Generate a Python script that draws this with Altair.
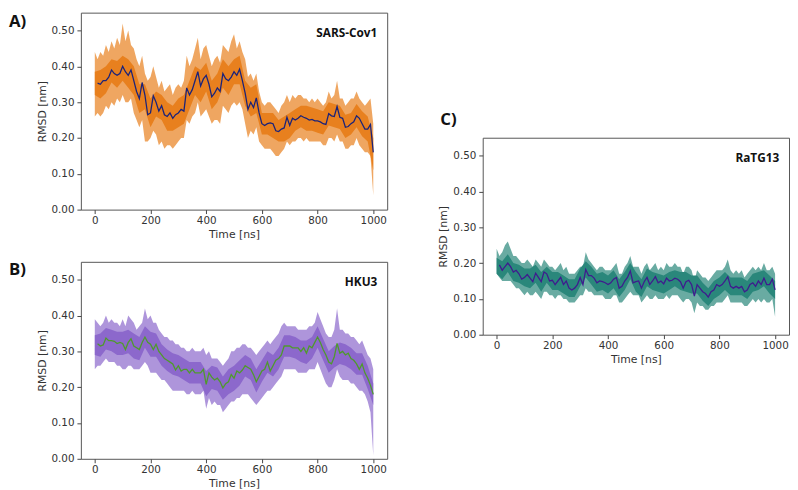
import altair as alt
import pandas as pd

# ---------------- data ----------------
T_MEAN = list(range(10, 1001, 10))   # 100 points
T_OUT = list(range(0, 1001, 10))     # 101 points
T_IN = list(range(0, 1001, 20))      # 51 points

# Panel A: SARS-Cov1
A_MEAN = [.353, .35, .36, .36, .37, .39, .38, .375, .38, .40,
          .385, .375, .39, .36, .33, .31, .355, .32, .265, .27,
          .318, .30, .275, .29, .265, .26, .27, .255, .265, .27,
          .28, .275, .34, .32, .335, .36, .385, .345, .365, .375,
          .35, .315, .325, .34, .33, .38, .365, .36, .37, .385,
          .375, .392, .36, .325, .28, .30, .285, .312, .27, .24,
          .235, .24, .242, .24, .22, .218, .225, .228, .258, .235,
          .255, .25, .255, .262, .258, .255, .25, .252, .248, .248,
          .245, .24, .238, .268, .262, .26, .288, .258, .255, .23,
          .232, .24, .245, .262, .255, .24, .225, .225, .238, .16]
A_OUT_HI = [.44, .42, .44, .43, .46, .44, .47, .45, .48, .46,
            .52, .47, .50, .46, .45, .42, .40, .43, .38, .36,
            .37, .40, .37, .34, .36, .33, .34, .35, .32, .34,
            .35, .34, .36, .43, .40, .42, .45, .48, .42, .45,
            .46, .43, .40, .42, .43, .41, .46, .45, .44, .47,
            .49, .45, .47, .44, .42, .37, .38, .36, .38, .33,
            .30, .29, .30, .30, .29, .28, .27, .29, .30, .32,
            .30, .32, .31, .32, .32, .31, .31, .30, .31, .30,
            .31, .30, .29, .30, .33, .31, .32, .36, .31, .31,
            .29, .30, .31, .31, .33, .31, .30, .29, .30, .31,
            .24]
A_OUT_LO = [.26, .27, .26, .27, .29, .28, .30, .29, .31, .30,
            .32, .30, .30, .31, .27, .25, .23, .25, .19, .19,
            .20, .22, .21, .18, .19, .17, .18, .18, .17, .18,
            .19, .20, .20, .25, .24, .26, .27, .30, .26, .27,
            .28, .26, .24, .25, .25, .24, .29, .28, .27, .29,
            .30, .29, .30, .28, .24, .20, .22, .21, .23, .19,
            .18, .17, .17, .17, .16, .15, .15, .16, .17, .19,
            .18, .19, .19, .20, .20, .19, .20, .19, .19, .19,
            .19, .19, .18, .18, .20, .20, .19, .21, .19, .19,
            .17, .17, .18, .18, .20, .18, .17, .16, .16, .15,
            .04]
A_IN_HI = [.385, .39, .40, .42, .415, .43, .42, .40, .35, .35,
           .31, .33, .32, .30, .29, .31, .32, .36, .40, .39,
           .41, .36, .38, .42, .40, .42, .43, .36, .34, .35,
           .27, .27, .27, .25, .26, .27, .28, .29, .29, .285,
           .28, .275, .30, .295, .29, .265, .27, .295, .275, .26,
           .20]
A_IN_LO = [.32, .31, .325, .355, .34, .36, .34, .32, .27, .28,
           .23, .26, .25, .22, .22, .23, .24, .28, .32, .30,
           .33, .28, .30, .34, .32, .35, .35, .29, .26, .27,
           .21, .21, .20, .19, .19, .20, .22, .23, .22, .22,
           .215, .21, .235, .23, .225, .20, .21, .23, .205, .19,
           .11]

# Panel B: HKU3
B_MEAN = [.321, .315, .318, .337, .33, .33, .328, .322, .325, .322,
          .305, .325, .335, .315, .31, .305, .325, .34, .325, .32,
          .305, .32, .30, .29, .28, .275, .27, .265, .248, .26,
          .245, .25, .25, .24, .25, .24, .24, .24, .25, .208,
          .24, .228, .22, .225, .215, .198, .21, .215, .235, .225,
          .245, .24, .248, .26, .255, .25, .235, .215, .23, .245,
          .25, .27, .245, .26, .275, .28, .29, .315, .315, .315,
          .31, .31, .31, .30, .31, .295, .315, .31, .325, .34,
          .325, .305, .29, .27, .265, .285, .322, .295, .30, .29,
          .295, .28, .275, .265, .25, .265, .24, .225, .205, .18]
B_OUT_HI = [.39, .38, .37, .38, .40, .38, .39, .38, .38, .37,
            .39, .37, .40, .39, .38, .36, .37, .38, .42, .39,
            .40, .38, .38, .36, .35, .34, .34, .33, .33, .32,
            .32, .31, .31, .30, .30, .31, .30, .30, .30, .31,
            .29, .30, .28, .28, .28, .27, .26, .27, .28, .30,
            .30, .31, .31, .32, .32, .31, .31, .30, .29, .30,
            .31, .32, .33, .32, .33, .34, .35, .37, .38, .37,
            .37, .37, .37, .36, .36, .36, .36, .37, .37, .38,
            .41, .39, .37, .35, .34, .34, .36, .42, .36, .36,
            .35, .35, .34, .34, .33, .32, .33, .31, .29, .28,
            .25]
B_OUT_LO = [.25, .26, .26, .27, .28, .27, .27, .27, .26, .26,
            .25, .25, .26, .26, .25, .25, .25, .26, .27, .26,
            .24, .24, .24, .23, .22, .22, .21, .20, .19, .19,
            .19, .19, .19, .18, .18, .19, .18, .18, .18, .19,
            .14, .17, .15, .16, .15, .15, .13, .14, .15, .16,
            .16, .17, .17, .18, .18, .18, .17, .16, .15, .16,
            .17, .18, .19, .19, .20, .21, .22, .23, .25, .25,
            .25, .25, .25, .24, .24, .24, .24, .25, .25, .25,
            .27, .25, .23, .21, .20, .20, .22, .25, .23, .22,
            .22, .22, .21, .21, .20, .19, .19, .18, .16, .13,
            .01]
B_IN_HI = [.345, .35, .365, .36, .355, .355, .36, .35, .34, .37,
           .355, .35, .32, .305, .295, .29, .28, .27, .27, .27,
           .245, .26, .255, .23, .25, .26, .275, .29, .28, .25,
           .275, .30, .29, .31, .345, .345, .34, .33, .33, .34,
           .37, .335, .30, .315, .325, .32, .31, .295, .295, .26,
           .21]
B_IN_LO = [.29, .285, .305, .30, .29, .29, .295, .28, .275, .31,
           .285, .285, .26, .245, .235, .23, .22, .21, .21, .21,
           .175, .195, .19, .165, .18, .19, .205, .23, .22, .185,
           .215, .24, .23, .25, .285, .285, .28, .27, .265, .28,
           .31, .275, .24, .255, .265, .26, .25, .235, .235, .195,
           .15]

# Panel C: RaTG13
C_MEAN = [.195, .18, .19, .20, .19, .175, .18, .17, .155, .16,
          .168, .158, .148, .172, .16, .148, .175, .17, .15, .152,
          .14, .15, .16, .14, .15, .13, .125, .13, .14, .16,
          .14, .182, .165, .165, .158, .145, .15, .148, .145, .14,
          .145, .155, .16, .13, .135, .15, .16, .178, .145, .148,
          .15, .13, .148, .16, .14, .15, .162, .145, .15, .142,
          .158, .15, .152, .158, .155, .148, .13, .148, .152, .14,
          .108, .14, .13, .12, .115, .105, .12, .125, .14, .135,
          .14, .15, .162, .135, .13, .135, .13, .135, .12, .125,
          .14, .145, .135, .15, .14, .158, .14, .14, .155, .125]
C_OUT_HI = [.24, .22, .23, .25, .26, .24, .22, .22, .21, .20,
            .20, .21, .20, .19, .21, .20, .19, .21, .20, .19,
            .19, .18, .19, .20, .18, .19, .17, .17, .17, .18,
            .19, .19, .23, .21, .20, .19, .18, .19, .19, .18,
            .18, .18, .19, .20, .17, .17, .19, .20, .22, .19,
            .19, .19, .17, .19, .20, .18, .19, .20, .18, .19,
            .18, .20, .19, .19, .20, .19, .19, .17, .19, .19,
            .18, .15, .18, .17, .16, .16, .15, .16, .17, .18,
            .18, .18, .19, .21, .18, .17, .18, .17, .18, .16,
            .17, .18, .19, .18, .19, .18, .20, .18, .18, .19,
            .17]
C_OUT_LO = [.17, .16, .15, .15, .15, .15, .14, .13, .13, .12,
            .11, .12, .11, .11, .12, .11, .10, .12, .12, .11,
            .11, .10, .11, .11, .10, .10, .09, .09, .09, .10,
            .11, .11, .13, .12, .12, .11, .11, .11, .11, .10,
            .10, .10, .11, .11, .09, .09, .10, .11, .12, .11,
            .11, .11, .09, .10, .11, .10, .10, .11, .10, .10,
            .10, .11, .10, .11, .11, .11, .10, .09, .10, .10,
            .09, .06, .09, .08, .08, .07, .07, .08, .08, .09,
            .09, .09, .10, .11, .09, .09, .09, .09, .09, .08,
            .08, .09, .10, .09, .10, .09, .10, .09, .09, .10,
            .05]
C_IN_HI = [.215, .205, .225, .20, .195, .185, .185, .195, .175, .19,
           .175, .175, .165, .155, .155, .185, .205, .19, .17, .175,
           .165, .18, .155, .175, .20, .175, .155, .185, .175, .17,
           .165, .175, .18, .175, .175, .165, .165, .145, .13, .15,
           .16, .175, .16, .16, .16, .15, .17, .175, .18, .165,
           .15]
C_IN_LO = [.17, .155, .175, .15, .145, .135, .13, .145, .12, .145,
           .125, .125, .115, .105, .105, .135, .16, .14, .12, .125,
           .115, .13, .105, .125, .155, .12, .105, .135, .125, .12,
           .115, .125, .135, .125, .12, .115, .115, .095, .08, .10,
           .11, .125, .11, .11, .11, .10, .12, .125, .135, .115,
           .10]

X_TICKS = [0, 200, 400, 600, 800, 1000]
Y_TICKS = [0.0, 0.1, 0.2, 0.3, 0.4, 0.5]

W = 311
H = 200
FONT = "DejaVu Sans"


def panel(mean, out_hi, out_lo, in_hi, in_lo, band, line, name, letter, lx, ly):
    dm = pd.DataFrame({"t": T_MEAN, "v": mean})
    do = pd.DataFrame({"t": T_OUT, "hi": out_hi, "lo": out_lo})
    di = pd.DataFrame({"t": T_IN, "hi": in_hi, "lo": in_lo})
    xs = alt.Scale(domain=[-50, 1050], nice=False, zero=False)
    ys = alt.Scale(domain=[0, 0.55], nice=False)
    xax = alt.Axis(values=X_TICKS, format="d", title="Time [ns]", grid=False, domain=False,
                   tickSize=4, labelPadding=2, titlePadding=3)
    yax = alt.Axis(values=Y_TICKS, format=".2f", title="RMSD [nm]", grid=False,
                   domain=False, tickSize=4, labelPadding=3, titlePadding=4)
    X = lambda: alt.X("t:Q", scale=xs, axis=xax)
    outer = alt.Chart(do).mark_area(color=band, opacity=0.7).encode(
        x=X(), y=alt.Y("hi:Q", scale=ys, axis=yax), y2="lo:Q")
    inner = alt.Chart(di).mark_area(color=band, opacity=1.0).encode(
        x=X(), y=alt.Y("hi:Q", scale=ys, axis=yax), y2="lo:Q")
    ln = alt.Chart(dm).mark_line(color=line, strokeWidth=1.3).encode(
        x=X(), y=alt.Y("v:Q", scale=ys, axis=yax))
    name_t = alt.Chart(pd.DataFrame({"s": [name]})).mark_text(
        align="right", baseline="middle", fontWeight="bold", fontSize=12,
        font="Open Sans", color="#111").encode(
        x=alt.value(W - 10), y=alt.value(21), text="s:N")
    letter_t = alt.Chart(pd.DataFrame({"s": [letter]})).mark_text(
        align="left", baseline="top", fontWeight="bold", fontSize=17,
        font="Open Sans", color="#111").encode(
        x=alt.value(lx), y=alt.value(ly), text="s:N")
    return alt.layer(outer, inner, ln, name_t, letter_t).properties(width=W, height=H)


pa = panel(A_MEAN, A_OUT_HI, A_OUT_LO, A_IN_HI, A_IN_LO,
           "#e8801e", "#1b237a", "SARS-Cov1", "A)", -73, 2)
pb = panel(B_MEAN, B_OUT_HI, B_OUT_LO, B_IN_HI, B_IN_LO,
           "#8c68cc", "#4f9a2c", "HKU3", "B)", -73, 0)
pc = panel(C_MEAN, C_OUT_HI, C_OUT_LO, C_IN_HI, C_IN_LO,
           "#2a877b", "#3f1c8e", "RaTG13", "C)", -43, -26)

spacer = alt.Chart(pd.DataFrame({"a": [0]})).mark_point(opacity=0, size=4).encode(
    x=alt.value(5), y=alt.value(5)).properties(
    width=10, height=99, view=alt.ViewBackground(stroke=None))

left = alt.vconcat(pa, pb, spacing=20)
right = alt.vconcat(spacer, pc, spacing=0)

chart = alt.hconcat(left, right, spacing=50).properties(
    padding=0, background="white"
).configure_view(
    stroke="#555", strokeWidth=1
).configure_axis(
    labelFont=FONT, labelFontSize=10.5, labelColor="#333",
    titleFont=FONT, titleFontSize=11, titleFontWeight="normal", titleColor="#333",
    tickColor="#444", tickWidth=1
)

chart.save("out.html", embed_options={"renderer": "svg", "actions": False})
